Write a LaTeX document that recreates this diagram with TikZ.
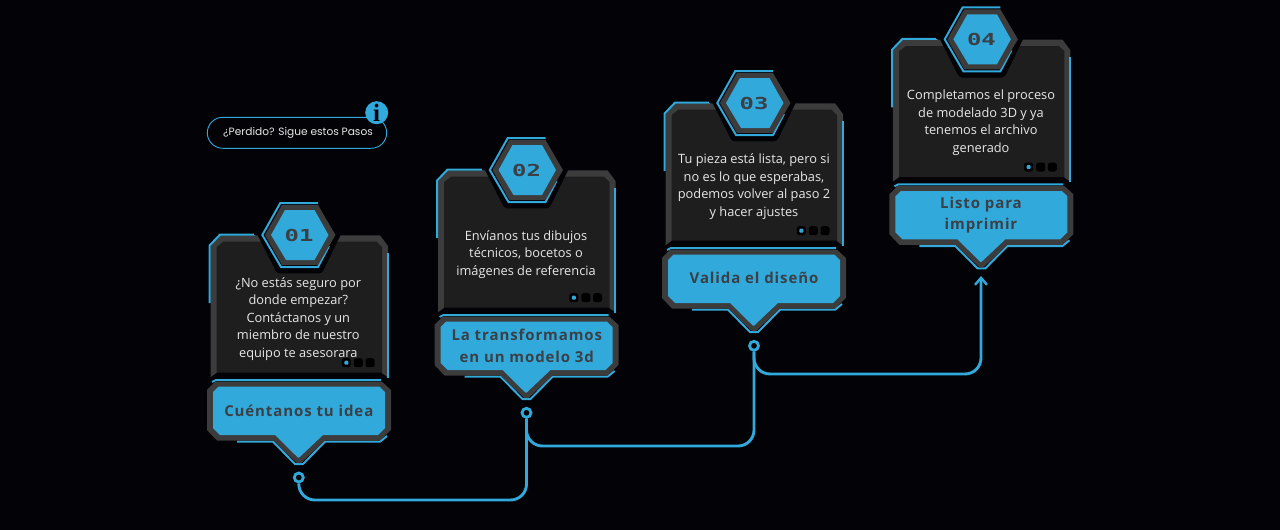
\documentclass[tikz,border=0pt]{standalone}
\usepackage{fontspec}
\setmainfont{Open Sans}
\newfontfamily\pillfont{Poppins}
\newfontfamily\numfont{DejaVu Sans Mono}
\newfontfamily\infofont{Liberation Serif}
\usetikzlibrary{arrows.meta}
\definecolor{bgc}{RGB}{2,2,7}
\definecolor{accent}{RGB}{50,169,219}
\definecolor{edgegray}{RGB}{60,60,60}
\definecolor{panel}{RGB}{30,30,30}
\definecolor{bodytxt}{RGB}{232,232,232}
\definecolor{labeltxt}{RGB}{58,64,70}
\tikzset{
  accentline/.style={draw=accent,line width=2pt,line cap=butt,line join=miter},
  bodytext/.style={text=bodytxt,font=\fontsize{12.8}{17.6}\selectfont,align=center,inner sep=0pt},
  labeltext/.style={text=labeltxt,font=\fontsize{15}{21.5}\selectfont\bfseries\addfontfeatures{LetterSpace=6},align=center,inner sep=0pt},
  numtext/.style={text=labeltxt,font=\fontsize{16.5}{16.5}\selectfont\numfont\bfseries,inner sep=0pt},
  dotbox/.style={fill=black,draw=none,rounded corners=2.5pt},
  anchorcircle/.style={circle,draw=accent,line width=2.8pt,fill=bgc,minimum size=9pt,inner sep=0pt},
  conn/.style={draw=accent,line width=2.9pt,rounded corners=16pt}
}
\newcommand{\stepcard}[6]{%
\begin{scope}[shift={(#1,#2)}]
  \fill[edgegray] (220,235.3) -- (380,235.3) -- (388,246) -- (388,378) -- (210.5,378) -- (210.5,246) -- cycle;
  \fill[panel] (223.5,241.7) -- (376.5,241.7) -- (382,247) -- (382,376) -- (216.7,376) -- (216.7,247) -- cycle;
  \draw[accentline] (255,234.6) -- (220,234.6) -- (209.6,245.5) -- (209.6,303);
  \fill[bgc,rounded corners=3pt] (254,228) -- (277,273.3) -- (322,273.3) -- (344,228) -- cycle;
  \fill[bgc] (254,190) rectangle (344,235);
  \draw[accentline] (318,203) -- (280.3,203) -- (262.3,235) -- (281,267) -- (318,267) -- (329,246);
  \fill[edgegray] (282,205) -- (318,205) -- (335.5,235) -- (318,265) -- (282,265) -- (265,235) -- cycle;
  \fill[accent] (285,210) -- (314.5,210) -- (328.5,235) -- (314.5,260) -- (286,260) -- (271,235) -- cycle;
  \node[numtext] (num#6) at (299,235) {\scalebox{1.45}[1]{#3}};
  \node[bodytext] (txt#6) at (#5) {#4};
  \fill[dotbox] (341.8,358.2) rectangle +(9,9);
  \fill[dotbox] (353.8,358.2) rectangle +(9,9);
  \fill[dotbox] (365.5,358.2) rectangle +(9,9);
  \fill[accent,rounded corners=1pt] (344.3,360.7) rectangle +(4,4);
  \fill[bgc] (207,380) -- (217,372.7) -- (381,372.7) -- (393,381) -- (393,395) -- (205,395) -- cycle;
  \draw[accentline] (387.8,253) -- (387.8,377.5);
  \draw[accentline] (212,382) -- (216,380) -- (381,380);
  \draw[accentline] (237,441.7) -- (273,441.7) -- (295,464) -- (303,464) -- (325,441.7) -- (380,441.7) -- (387,436);
  \fill[edgegray] (215,381.7) -- (382,381.7) -- (391,390) -- (391,430) -- (380,440.5) -- (325,440.5) -- (301,463) -- (297,463) -- (273,440.5) -- (217,440.5) -- (207,430) -- (207,390) -- cycle;
  \fill[accent] (218.5,386.7) -- (379.5,386.7) -- (385,392) -- (385,428) -- (378,435) -- (323,435) -- (299,457.7) -- (298,457.7) -- (275,435) -- (220,435) -- (213,428) -- (213,392) -- cycle;
\end{scope}}
\newcommand{\steplabel}[3]{\node[labeltext] (lbl#1) at (#2) {#3};}
\begin{document}
\begin{tikzpicture}[x=1pt,y=-1pt]
  \useasboundingbox (0,0) rectangle (1280,530);
  \fill[bgc] (0,0) rectangle (1280,530);

  \node[draw=accent,line width=0.9pt,rounded corners=15.5pt,minimum width=179.4pt,minimum height=31pt,inner sep=0pt] (pill) at (297,132.8) {};
  \node[inner sep=0pt,text=bodytxt,font=\fontsize{10.6}{12}\selectfont\pillfont] (pilltext) at (298,133.2) {¿Perdido? Sigue estos Pasos};
  \node[circle,fill=accent,minimum size=23pt,inner sep=0pt,text=bgc,font=\fontsize{25}{25}\selectfont\infofont\bfseries] (info) at (376.7,112.7) {i};

  \stepcard{0}{0}{01}{¿No estás seguro por\\donde empezar?\\Contáctanos y un\\miembro de nuestro\\equipo te asesorara}{298.3,319}{a}
  \stepcard{227.5}{-65}{02}{Envíanos tus dibujos\\técnicos, bocetos o\\imágenes de referencia}{298.5,319.5}{b}
  \stepcard{455}{-132}{03}{Tu pieza está lista, pero si\\no es lo que esperabas,\\podemos volver al paso 2\\y hacer ajustes}{299,318.5}{c}
  \stepcard{682.4}{-195.7}{04}{Completamos el proceso\\de modelado 3D y ya\\tenemos el archivo\\generado}{298.6,318.5}{d}

  \steplabel{a}{298.8,411}{Cuéntanos tu idea}
  \steplabel{b}{526.8,346}{La transformamos\\en un modelo 3d}
  \steplabel{c}{754,278}{Valida el diseño}
  \steplabel{d}{981,215}{Listo para\\imprimir}

  \node[anchorcircle] (c1) at (298.8,477.5) {};
  \node[anchorcircle] (c2) at (526.5,412.8) {};
  \node[anchorcircle] (c3) at (754,345.8) {};
  \coordinate (j1) at (526.5,500);
  \coordinate (j2) at (754,446);
  \coordinate (j3) at (981,374);
  \coordinate (end4) at (981,276);
  \draw[conn] (c1.south) |- (j1) -- (c2.south);
  \draw[conn] (c2.south) |- (j2) -- (c3.south);
  \draw[conn,-{Straight Barb[length=7pt,width=12pt,line width=2.4pt]}] (c3.south) |- (j3) -- (end4);
\end{tikzpicture}
\end{document}
